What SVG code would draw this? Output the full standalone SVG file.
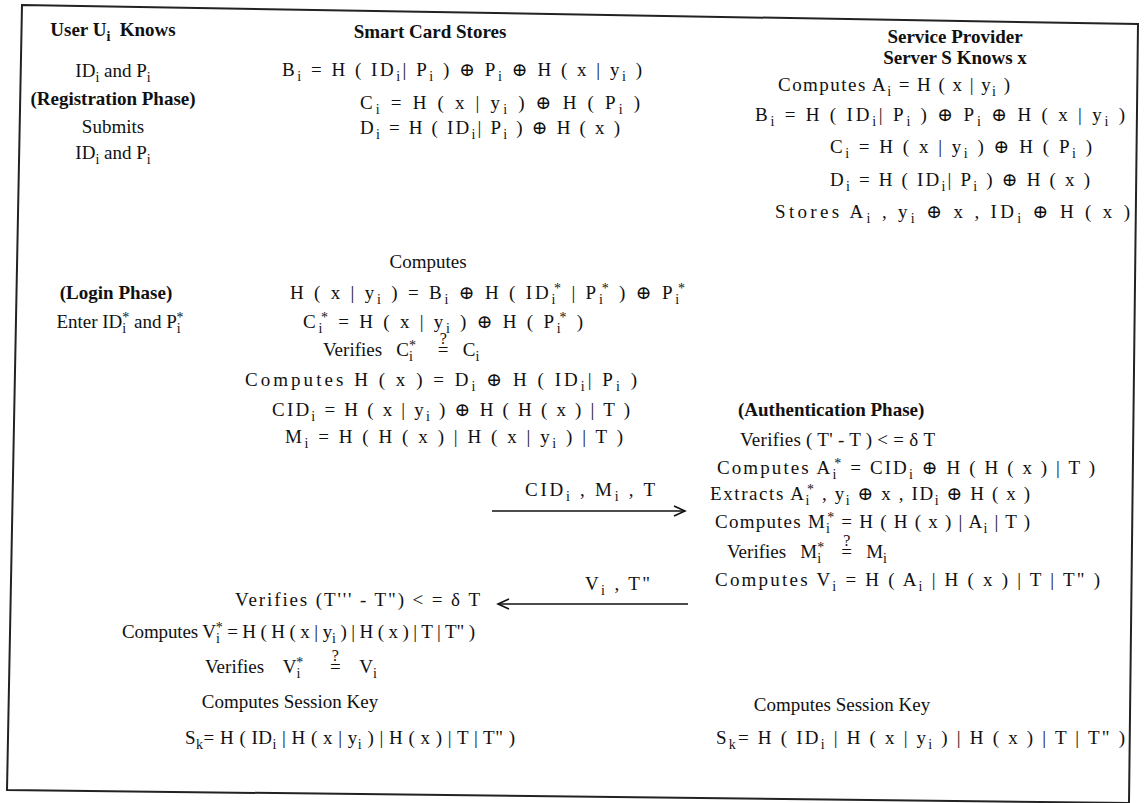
<svg xmlns="http://www.w3.org/2000/svg" width="1144" height="803" viewBox="0 0 1144 803">
<defs>
<style>
.t{font-family:"Liberation Serif","DejaVu Serif",serif;font-size:19px;fill:#111}
.b{font-family:"Liberation Serif","DejaVu Serif",serif;font-size:19px;font-weight:bold;fill:#111}
.m{text-anchor:middle}
.s{font-size:14px}
.q{font-size:16px}
.frame{fill:none;stroke:#222;stroke-width:2}
.arr{fill:none;stroke:#111;stroke-width:1.6}
</style>
<marker id="ah" markerWidth="14" markerHeight="12" refX="12" refY="6" orient="auto" markerUnits="userSpaceOnUse">
<path d="M1,1 L12,6 L1,11" fill="none" stroke="#111" stroke-width="1.6"/>
</marker>
</defs>
<rect width="1144" height="803" fill="#fff"/>
<path class="frame" d="M22,5 L1138,24 L1129,803 L7,790 Z"/>

<g id="user">
<text class="b m" x="113" y="36">User U<tspan class="s" dy="5">i</tspan><tspan dy="-5">&#160; Knows</tspan></text>
<text class="t m" x="113" y="77">ID<tspan class="s" dy="5">i</tspan><tspan dy="-5"> and P</tspan><tspan class="s" dy="5">i</tspan></text>
<text class="b m" x="113" y="105">(Registration Phase)</text>
<text class="t m" x="113" y="133">Submits</text>
<text class="t m" x="113" y="159">ID<tspan class="s" dy="5">i</tspan><tspan dy="-5"> and P</tspan><tspan class="s" dy="5">i</tspan></text>
<text class="b m" x="116" y="299">(Login Phase)</text>
<text class="t m" x="120" y="328">Enter ID<tspan class="s" dy="5">i</tspan><tspan class="s" dx="-4" dy="-11">*</tspan><tspan dy="6"> and P</tspan><tspan class="s" dy="5">i</tspan><tspan class="s" dx="-4" dy="-11">*</tspan></text>
</g>

<g id="smartcard">
<text class="b m" x="430" y="38">Smart Card Stores</text>
<text class="t" x="282" y="76" textLength="360" lengthAdjust="spacing">B<tspan class="s" dy="5">i</tspan><tspan dy="-5"> = H ( ID</tspan><tspan class="s" dy="5">i</tspan><tspan dy="-5">| P</tspan><tspan class="s" dy="5">i</tspan><tspan dy="-5"> ) ⊕ P</tspan><tspan class="s" dy="5">i</tspan><tspan dy="-5"> ⊕ H ( x | y</tspan><tspan class="s" dy="5">i</tspan><tspan dy="-5"> )</tspan></text>
<text class="t" x="360" y="109" textLength="280" lengthAdjust="spacing">C<tspan class="s" dy="5">i</tspan><tspan dy="-5"> = H ( x | y</tspan><tspan class="s" dy="5">i</tspan><tspan dy="-5"> ) ⊕ H ( P</tspan><tspan class="s" dy="5">i</tspan><tspan dy="-5"> )</tspan></text>
<text class="t" x="360" y="134" textLength="260" lengthAdjust="spacing">D<tspan class="s" dy="5">i</tspan><tspan dy="-5"> = H ( ID</tspan><tspan class="s" dy="5">i</tspan><tspan dy="-5">| P</tspan><tspan class="s" dy="5">i</tspan><tspan dy="-5"> ) ⊕ H ( x )</tspan></text>
</g>

<g id="server">
<text class="b m" x="955" y="43">Service Provider</text>
<text class="b m" x="955" y="64">Server S Knows x</text>
<text class="t" x="778" y="91" textLength="232" lengthAdjust="spacing">Computes A<tspan class="s" dy="5">i</tspan><tspan dy="-5"> = H ( x | y</tspan><tspan class="s" dy="5">i</tspan><tspan dy="-5"> )</tspan></text>
<text class="t" x="755" y="121" textLength="370" lengthAdjust="spacing">B<tspan class="s" dy="5">i</tspan><tspan dy="-5"> = H ( ID</tspan><tspan class="s" dy="5">i</tspan><tspan dy="-5">| P</tspan><tspan class="s" dy="5">i</tspan><tspan dy="-5"> ) ⊕ P</tspan><tspan class="s" dy="5">i</tspan><tspan dy="-5"> ⊕ H ( x | y</tspan><tspan class="s" dy="5">i</tspan><tspan dy="-5"> )</tspan></text>
<text class="t" x="830" y="153" textLength="262" lengthAdjust="spacing">C<tspan class="s" dy="5">i</tspan><tspan dy="-5"> = H ( x | y</tspan><tspan class="s" dy="5">i</tspan><tspan dy="-5"> ) ⊕ H ( P</tspan><tspan class="s" dy="5">i</tspan><tspan dy="-5"> )</tspan></text>
<text class="t" x="830" y="186" textLength="260" lengthAdjust="spacing">D<tspan class="s" dy="5">i</tspan><tspan dy="-5"> = H ( ID</tspan><tspan class="s" dy="5">i</tspan><tspan dy="-5">| P</tspan><tspan class="s" dy="5">i</tspan><tspan dy="-5"> ) ⊕ H ( x )</tspan></text>
<text class="t" x="775" y="218" textLength="355" lengthAdjust="spacing">Stores A<tspan class="s" dy="5">i</tspan><tspan dy="-5"> , y</tspan><tspan class="s" dy="5">i</tspan><tspan dy="-5"> ⊕ x , ID</tspan><tspan class="s" dy="5">i</tspan><tspan dy="-5"> ⊕ H ( x )</tspan></text>
</g>

<g id="login">
<text class="t m" x="428" y="268">Computes</text>
<text class="t" x="290" y="299" textLength="395" lengthAdjust="spacing">H ( x | y<tspan class="s" dy="5">i</tspan><tspan dy="-5"> ) = B</tspan><tspan class="s" dy="5">i</tspan><tspan dy="-5"> ⊕ H ( ID</tspan><tspan class="s" dy="5">i</tspan><tspan class="s" dx="-4" dy="-11">*</tspan><tspan dy="6"> | P</tspan><tspan class="s" dy="5">i</tspan><tspan class="s" dx="-4" dy="-11">*</tspan><tspan dy="6"> ) ⊕ P</tspan><tspan class="s" dy="5">i</tspan><tspan class="s" dx="-4" dy="-11">*</tspan></text>
<text class="t" x="303" y="328" textLength="280" lengthAdjust="spacing">C<tspan class="s" dy="5">i</tspan><tspan class="s" dx="-4" dy="-11">*</tspan><tspan dy="6"> = H ( x | y</tspan><tspan class="s" dy="5">i</tspan><tspan dy="-5"> ) ⊕ H ( P</tspan><tspan class="s" dy="5">i</tspan><tspan class="s" dx="-4" dy="-11">*</tspan><tspan dy="6"> )</tspan></text>
<text class="t" x="323" y="356">Verifies&#160;&#160; C<tspan class="s" dy="5">i</tspan><tspan class="s" dx="-4" dy="-11">*</tspan><tspan dy="6">&#160;&#160;&#160;&#160;&#160;</tspan><tspan class="q" dy="-12">?</tspan><tspan dx="-9" dy="12">=&#160;&#160; C</tspan><tspan class="s" dy="5">i</tspan></text>
<text class="t" x="245" y="386" textLength="392" lengthAdjust="spacing">Computes H ( x ) = D<tspan class="s" dy="5">i</tspan><tspan dy="-5"> ⊕ H ( ID</tspan><tspan class="s" dy="5">i</tspan><tspan dy="-5">| P</tspan><tspan class="s" dy="5">i</tspan><tspan dy="-5"> )</tspan></text>
<text class="t" x="272" y="416" textLength="358" lengthAdjust="spacing">CID<tspan class="s" dy="5">i</tspan><tspan dy="-5"> = H ( x | y</tspan><tspan class="s" dy="5">i</tspan><tspan dy="-5"> ) ⊕ H ( H ( x ) | T )</tspan></text>
<text class="t" x="285" y="443" textLength="338" lengthAdjust="spacing">M<tspan class="s" dy="5">i</tspan><tspan dy="-5"> = H ( H ( x ) | H ( x | y</tspan><tspan class="s" dy="5">i</tspan><tspan dy="-5"> ) | T )</tspan></text>
</g>

<g id="authentication">
<text class="b" x="738" y="416">(Authentication Phase)</text>
<text class="t" x="740" y="446" textLength="195" lengthAdjust="spacing">Verifies ( T' - T ) &lt; = δ T</text>
<text class="t" x="717" y="474" textLength="378" lengthAdjust="spacing">Computes A<tspan class="s" dy="5">i</tspan><tspan class="s" dx="-4" dy="-11">*</tspan><tspan dy="6"> = CID</tspan><tspan class="s" dy="5">i</tspan><tspan dy="-5"> ⊕ H ( H ( x ) | T )</tspan></text>
<text class="t" x="710" y="500" textLength="320" lengthAdjust="spacing">Extracts A<tspan class="s" dy="5">i</tspan><tspan class="s" dx="-4" dy="-11">*</tspan><tspan dy="6"> , y</tspan><tspan class="s" dy="5">i</tspan><tspan dy="-5"> ⊕ x , ID</tspan><tspan class="s" dy="5">i</tspan><tspan dy="-5"> ⊕ H ( x )</tspan></text>
<text class="t" x="715" y="528" textLength="315" lengthAdjust="spacing">Computes M<tspan class="s" dy="5">i</tspan><tspan class="s" dx="-4" dy="-11">*</tspan><tspan dy="6"> = H ( H ( x ) | A</tspan><tspan class="s" dy="5">i</tspan><tspan dy="-5"> | T )</tspan></text>
<text class="t" x="727" y="558">Verifies&#160;&#160; M<tspan class="s" dy="5">i</tspan><tspan class="s" dx="-4" dy="-11">*</tspan><tspan dy="6">&#160;&#160;&#160;&#160;</tspan><tspan class="q" dy="-12">?</tspan><tspan dx="-9" dy="12">=&#160;&#160; M</tspan><tspan class="s" dy="5">i</tspan></text>
<text class="t" x="715" y="586" textLength="385" lengthAdjust="spacing">Computes V<tspan class="s" dy="5">i</tspan><tspan dy="-5"> = H ( A</tspan><tspan class="s" dy="5">i</tspan><tspan dy="-5"> | H ( x ) | T | T" )</tspan></text>
<text class="t m" x="842" y="711">Computes Session Key</text>
<text class="t" x="716" y="744" textLength="409" lengthAdjust="spacing">S<tspan class="s" dy="5">k</tspan><tspan dy="-5">= H ( ID</tspan><tspan class="s" dy="5">i</tspan><tspan dy="-5"> | H ( x | y</tspan><tspan class="s" dy="5">i</tspan><tspan dy="-5"> ) | H ( x ) | T | T" )</tspan></text>
</g>

<g id="user-verify">
<text class="t" x="235" y="606" textLength="245" lengthAdjust="spacing">Verifies (T''' - T") &lt; = δ T</text>
<text class="t" x="122" y="638" textLength="353" lengthAdjust="spacing">Computes V<tspan class="s" dy="5">i</tspan><tspan class="s" dx="-4" dy="-11">*</tspan><tspan dy="6"> = H ( H ( x | y</tspan><tspan class="s" dy="5">i</tspan><tspan dy="-5"> ) | H ( x ) | T | T" )</tspan></text>
<text class="t" x="205" y="673">Verifies&#160;&#160;&#160; V<tspan class="s" dy="5">i</tspan><tspan class="s" dx="-4" dy="-11">*</tspan><tspan dy="6">&#160;&#160;&#160;&#160;&#160;&#160;</tspan><tspan class="q" dy="-12">?</tspan><tspan dx="-9" dy="12">=&#160;&#160;&#160; V</tspan><tspan class="s" dy="5">i</tspan></text>
<text class="t m" x="290" y="708">Computes Session Key</text>
<text class="t" x="185" y="744" textLength="330" lengthAdjust="spacing">S<tspan class="s" dy="5">k</tspan><tspan dy="-5">= H ( ID</tspan><tspan class="s" dy="5">i</tspan><tspan dy="-5"> | H ( x | y</tspan><tspan class="s" dy="5">i</tspan><tspan dy="-5"> ) | H ( x ) | T | T" )</tspan></text>
</g>

<g id="connectors">
<line class="arr" x1="492" y1="511" x2="685" y2="511" marker-end="url(#ah)"/>
<text class="t" x="525" y="496" textLength="130" lengthAdjust="spacing">CID<tspan class="s" dy="5">i</tspan><tspan dy="-5"> , M</tspan><tspan class="s" dy="5">i</tspan><tspan dy="-5"> , T</tspan></text>
<line class="arr" x1="688" y1="604" x2="498" y2="604" marker-end="url(#ah)"/>
<text class="t" x="585" y="590" textLength="65" lengthAdjust="spacing">V<tspan class="s" dy="5">i</tspan><tspan dy="-5"> , T"</tspan></text>
</g>
</svg>
